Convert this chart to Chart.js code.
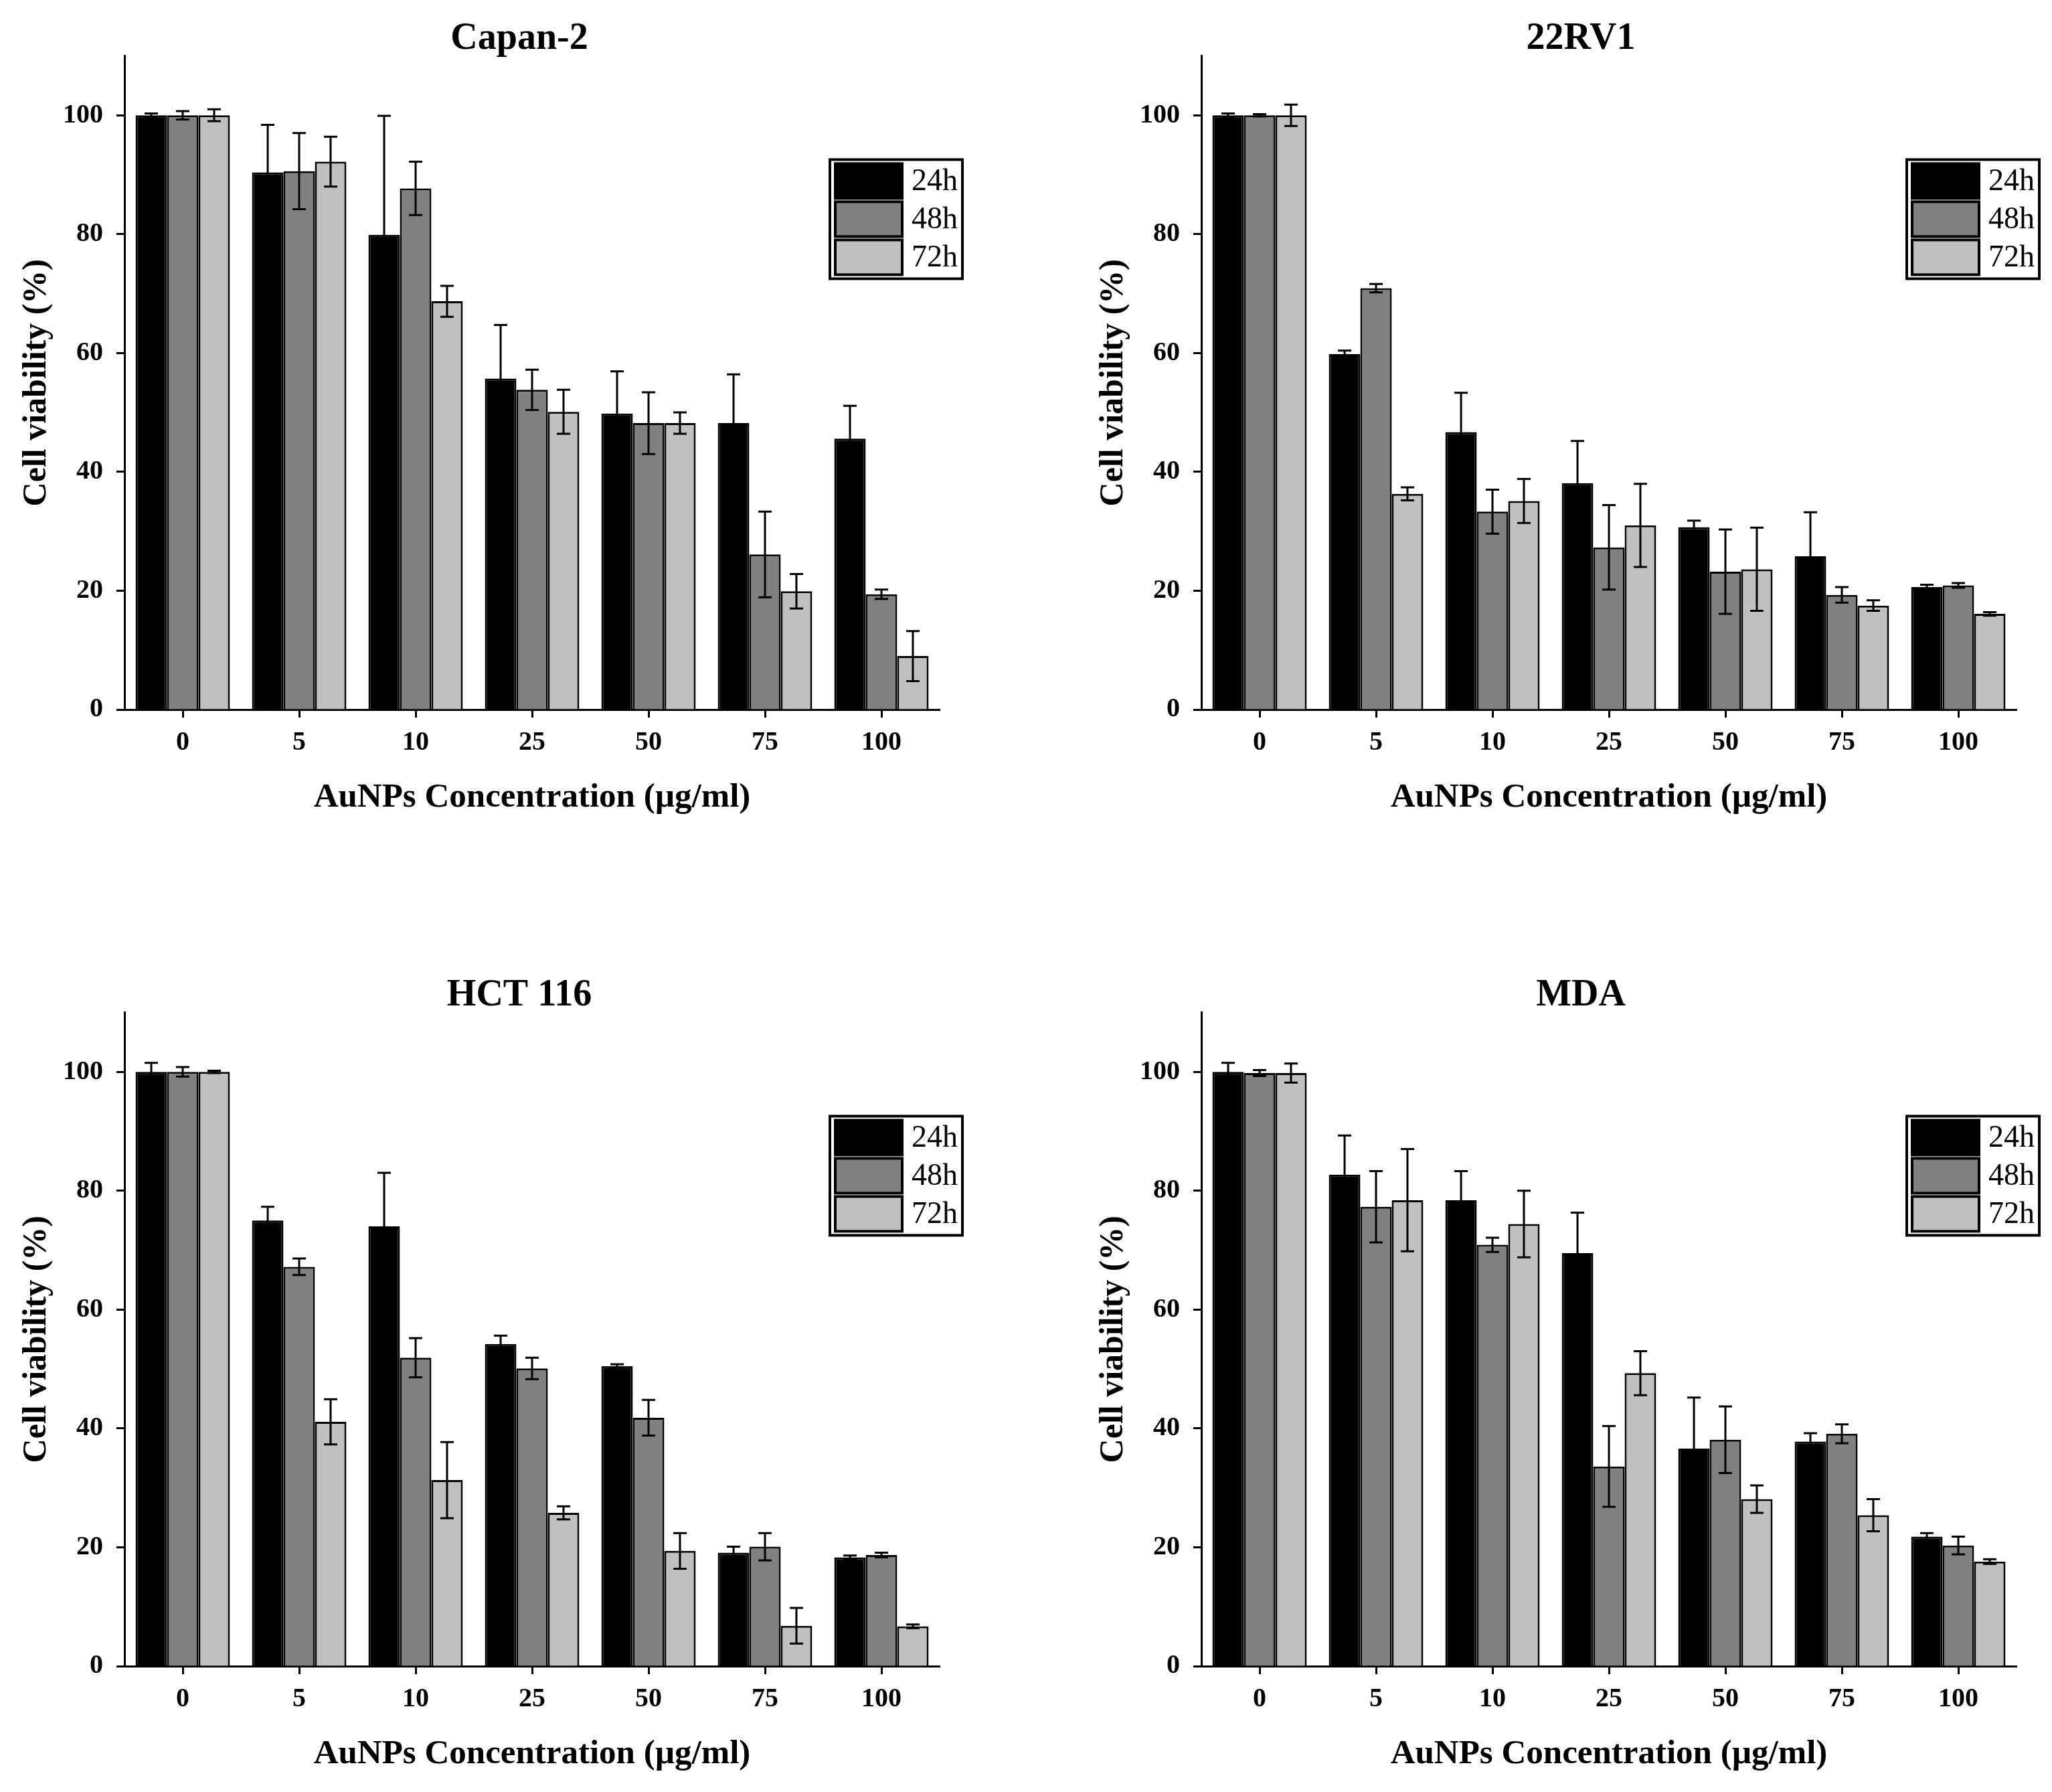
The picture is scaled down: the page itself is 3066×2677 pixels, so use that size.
<!DOCTYPE html>
<html>
<head>
<meta charset="utf-8">
<script src="https://cdn.jsdelivr.net/npm/chart.js@4"></script>
<style>
html, body { margin: 0; padding: 0; background: #fff; overflow: hidden; }
canvas { position: absolute; }
</style>
</head>
<body>
<canvas id="canvas1" width="1552" height="1240" style="left:0px;top:0px"></canvas>
<canvas id="canvas2" width="1506" height="1240" style="left:1609px;top:0px"></canvas>
<canvas id="canvas3" width="1552" height="1240" style="left:0px;top:1429px"></canvas>
<canvas id="canvas4" width="1506" height="1240" style="left:1609px;top:1429px"></canvas>
<script>
// concentrations on the x axis, time points in the legend
var concentrations = ["0", "5", "10", "25", "50", "75", "100"];
var timePoints = ["24h", "48h", "72h"];
var yTicks = [0, 20, 40, 60, 80, 100];

// Capan-2
var capan24 = [100, 90.4, 79.9, 55.7, 49.8, 48.2, 45.6];
var capan48 = [100, 90.6, 87.7, 53.8, 48.2, 26.1, 19.4];
var capan72 = [100, 92.2, 68.7, 50.1, 48.2, 19.9, 9.0];
var capan24Err = [0.3, 8.0, 20.0, 9.0, 7.1, 8.2, 5.5];
var capan48Err = [0.7, 6.4, 4.5, 3.4, 5.2, 7.2, 0.8];
var capan72Err = [1.0, 4.2, 2.6, 3.7, 1.8, 2.9, 4.2];

// 22RV1
var rv24 = [100, 59.8, 46.7, 38.1, 30.7, 25.8, 20.6];
var rv48 = [100, 70.9, 33.3, 27.3, 23.2, 19.3, 20.9];
var rv72 = [100, 36.3, 35.1, 31.0, 23.6, 17.5, 16.1];
var rv24Err = [0.3, 0.6, 6.6, 7.1, 1.1, 7.4, 0.4];
var rv48Err = [0.2, 0.7, 3.7, 7.1, 7.1, 1.3, 0.4];
var rv72Err = [1.8, 1.1, 3.7, 7.0, 7.0, 0.9, 0.3];

// HCT 116
var hct24 = [100, 75.0, 74.0, 54.2, 50.5, 19.1, 18.3];
var hct48 = [100, 67.2, 51.9, 50.1, 41.8, 20.1, 18.7];
var hct72 = [100, 41.1, 31.3, 25.8, 19.4, 6.8, 6.7];
var hct24Err = [1.5, 2.3, 9.0, 1.4, 0.3, 1.0, 0.3];
var hct48Err = [0.8, 1.4, 3.3, 1.8, 3.0, 2.3, 0.4];
var hct72Err = [0.2, 3.8, 6.4, 1.1, 3.0, 3.0, 0.3];

// MDA
var mda24 = [100, 82.7, 78.4, 69.5, 36.6, 37.8, 21.8];
var mda48 = [99.8, 77.3, 70.9, 33.6, 38.1, 39.1, 20.3];
var mda72 = [99.8, 78.4, 74.4, 49.3, 28.1, 25.4, 17.6];
var mda24Err = [1.5, 6.6, 4.9, 6.8, 8.6, 1.4, 0.6];
var mda48Err = [0.5, 6.0, 1.2, 6.8, 5.6, 1.6, 1.5];
var mda72Err = [1.6, 8.6, 5.6, 3.7, 2.3, 2.7, 0.4];

var barColors = ["#000000", "#808080", "#c0c0c0"];
var serif = "'Liberation Serif', 'Times New Roman', serif";

/**
 * error bars drawn on top of the bars
 */
var errorBars = {
	id: "errorBars",
	afterDatasetsDraw: function (chart) {
		var ctx = chart.ctx;
		var y = chart.scales.y;
		ctx.save();
		ctx.strokeStyle = "#000";
		ctx.lineWidth = 3;
		chart.data.datasets.forEach(function (ds, i) {
			var meta = chart.getDatasetMeta(i);
			meta.data.forEach(function (bar, j) {
				var v = ds.data[j], e = ds.errors[j];
				var top = y.getPixelForValue(v + e);
				var bot = y.getPixelForValue(v - e);
				ctx.beginPath();
				ctx.moveTo(bar.x, top); ctx.lineTo(bar.x, bot);
				ctx.moveTo(bar.x - 10, top); ctx.lineTo(bar.x + 10, top);
				ctx.moveTo(bar.x - 10, bot); ctx.lineTo(bar.x + 10, bot);
				ctx.stroke();
			});
		});
		ctx.restore();
	}
};

/**
 * framed legend in the upper right corner
 */
var boxLegend = {
	id: "boxLegend",
	afterDraw: function (chart) {
		var ctx = chart.ctx;
		var x0 = chart.chartArea.right - 164;
		var y0 = chart.chartArea.top + 155;
		ctx.save();
		ctx.fillStyle = "#fff";
		ctx.fillRect(x0, y0, 198, 178);
		ctx.strokeStyle = "#000";
		ctx.lineWidth = 4;
		ctx.strokeRect(x0, y0, 198, 178);
		ctx.font = "46px " + serif;
		ctx.textBaseline = "middle";
		chart.data.datasets.forEach(function (ds, i) {
			var sy = y0 + 6 + i * 57;
			ctx.fillStyle = ds.backgroundColor;
			ctx.fillRect(x0 + 8, sy, 100, 52);
			ctx.lineWidth = 4;
			ctx.strokeRect(x0 + 8, sy, 100, 52);
			ctx.fillStyle = "#000";
			ctx.fillText(ds.label, x0 + 122, sy + 28);
		});
		ctx.restore();
	}
};

function makeDataset(i, values, errors) {
	return {
		label: timePoints[i],
		data: values,
		errors: errors,
		backgroundColor: barColors[i],
		borderColor: "#000",
		borderWidth: 3,
		categoryPercentage: 0.81,
		barPercentage: 1.0
	};
}

function paintPanel(canvasId, title, rightSpace, s24, s48, s72, e24, e48, e72) {
	var config = {
		type: "bar",
		data: {
			labels: concentrations,
			datasets: [makeDataset(0, s24, e24), makeDataset(1, s48, e48), makeDataset(2, s72, e72)]
		},
		options: {
			responsive: false,
			animation: false,
			devicePixelRatio: 1,
			layout: { padding: 0 },
			plugins: {
				legend: { display: false },
				tooltip: { enabled: false },
				title: {
					display: true,
					text: title,
					color: "#000",
					font: { family: serif, size: 56, weight: "bold", lineHeight: 0.9 },
					padding: { top: 33, bottom: 0 }
				}
			},
			scales: {
				x: {
					offset: true,
					afterFit: function (s) { s.height = 180; },
					grid: { offset: false, drawOnChartArea: false, drawTicks: true, tickLength: 12, tickWidth: 3, color: "#000", tickColor: "#000" },
					border: { display: true, color: "#000", width: 3 },
					ticks: { color: "#000", padding: 14, maxRotation: 0, font: { family: serif, size: 40, weight: "bold" } },
					title: {
						display: true,
						text: "AuNPs Concentration (µg/ml)",
						color: "#000",
						font: { family: serif, size: 51, weight: "bold", lineHeight: 1.2 },
						padding: { top: 0, bottom: 18 }
					}
				},
				y: {
					min: 0,
					max: 110,
					afterBuildTicks: function (s) {
						s.ticks = yTicks.map(function (v) { return { value: v }; });
					},
					afterFit: function (s) { s.width = 186; },
					grid: { drawOnChartArea: false, drawTicks: true, tickLength: 12, tickWidth: 3, color: "#000", tickColor: "#000" },
					border: { display: true, color: "#000", width: 3 },
					ticks: { color: "#000", padding: 20, font: { family: serif, size: 40, weight: "bold" } },
					title: {
						display: true,
						text: "Cell viability (%)",
						color: "#000",
						font: { family: serif, size: 50, weight: "bold", lineHeight: 1.2 },
						padding: { top: 25, bottom: 0 }
					}
				},
				// empty space on the right so the title sits where it does in the figure
				spacer: {
					type: "linear",
					position: "right",
					afterFit: function (s) { s.width = rightSpace; },
					grid: { display: false },
					border: { display: false },
					ticks: { display: false }
				}
			}
		},
		plugins: [errorBars, boxLegend]
	};
	var ctx = document.getElementById(canvasId).getContext("2d");
	return new Chart(ctx, config);
}

paintPanel("canvas1", "Capan-2", 148, capan24, capan48, capan72, capan24Err, capan48Err, capan72Err);
paintPanel("canvas2", "22RV1", 102, rv24, rv48, rv72, rv24Err, rv48Err, rv72Err);
paintPanel("canvas3", "HCT 116", 148, hct24, hct48, hct72, hct24Err, hct48Err, hct72Err);
paintPanel("canvas4", "MDA", 102, mda24, mda48, mda72, mda24Err, mda48Err, mda72Err);
</script>
</body>
</html>
